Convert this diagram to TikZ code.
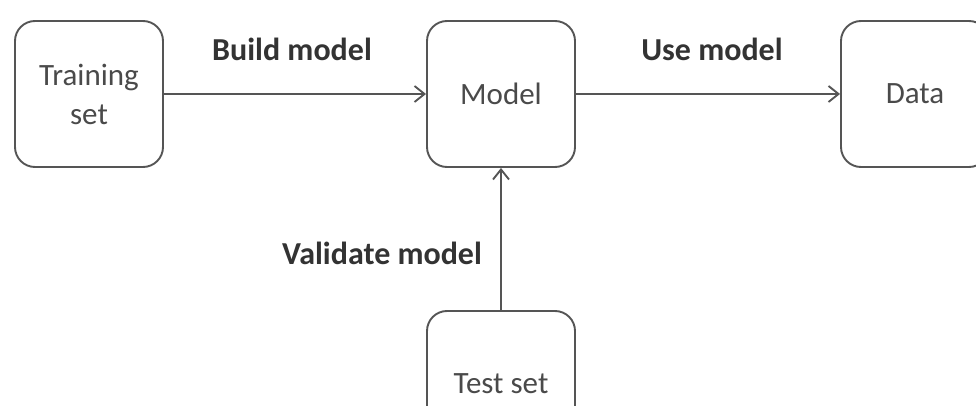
\documentclass[tikz,border=0pt]{standalone}
\usepackage{fontspec}
\setmainfont{Carlito}
\usetikzlibrary{arrows.meta}
\definecolor{edge}{HTML}{555555}
\definecolor{boxtext}{HTML}{4A4A4A}
\definecolor{labeltext}{HTML}{333333}
\begin{document}
\begin{tikzpicture}[x=1pt,y=-1pt,
  box/.style={draw=edge, line width=1.9pt, rounded corners=20pt,
    minimum width=148pt, minimum height=146pt, inner sep=0pt,
    align=center, text=boxtext, font=\fontsize{31}{39}\selectfont},
  lbl/.style={text=labeltext, font=\bfseries\fontsize{32}{38}\selectfont, inner sep=0pt},
  flow/.style={draw=edge, line width=1.9pt,
    -{Straight Barb[length=10pt,width=16pt,line width=1.9pt]}}]
\useasboundingbox (0,0) rectangle (976,406);
\clip (0,0) rectangle (976,406);
% process boxes
\node[box] (train) at (89,94) {Training\\set};
\node[box] (model) at (501,94) {Model};
\node[box] (data) at (915,94) {Data};
\node[box] (test) at (501,384) {Test set};
% connectors
\draw[flow] (train) -- (model);
\draw[flow] (model) -- (data);
\draw[flow] (test) -- (model);
% connector labels
\node[lbl] (build) at (292,49) {Build model};
\node[lbl] (use) at (712,49) {Use model};
\node[lbl] (validate) at (382,253) {Validate model};
\end{tikzpicture}
\end{document}
